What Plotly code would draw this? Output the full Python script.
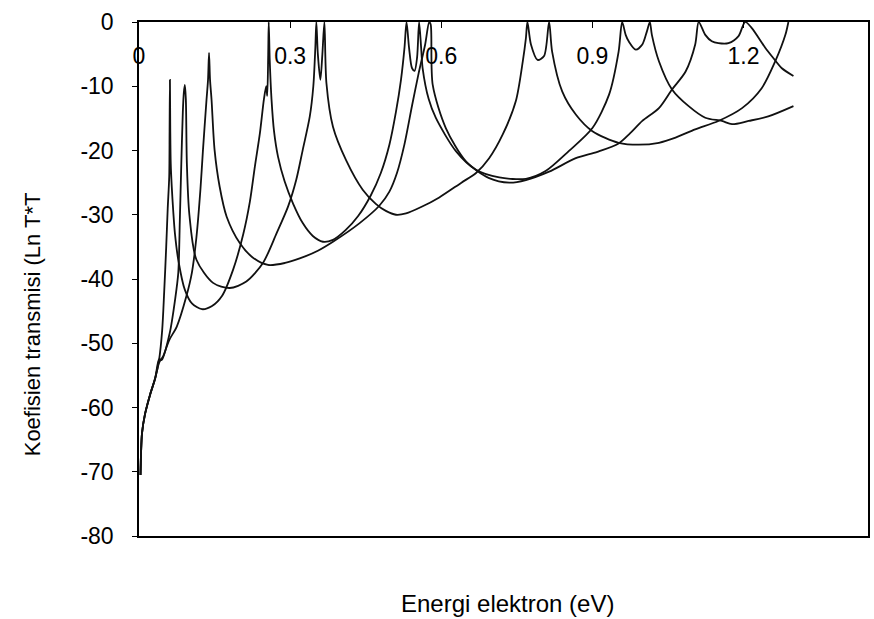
import plotly.graph_objects as go

# ---- data (energy in eV, Ln T*T) ----
curve1_energy = [0.003, 0.006, 0.012, 0.022, 0.032, 0.040, 0.046, 0.050, 0.054, 0.057,
                 0.0600, 0.0607, 0.0614, 0.0621, 0.0630, 0.065, 0.068, 0.0713, 0.0779, 0.0911,
                 0.105, 0.125, 0.145, 0.165, 0.187, 0.207, 0.220, 0.230, 0.240, 0.248,
                 0.2525, 0.2545, 0.2565, 0.2575, 0.2595, 0.263, 0.268, 0.276, 0.289, 0.306,
                 0.325, 0.345, 0.365, 0.385, 0.410, 0.435, 0.460, 0.480, 0.497, 0.510,
                 0.520, 0.527, 0.531, 0.536, 0.542, 0.547, 0.552, 0.556, 0.560, 0.563,
                 0.575, 0.589, 0.629, 0.669, 0.715, 0.768, 0.807, 0.853, 0.900, 0.933,
                 0.952, 0.959, 0.966, 0.972, 0.986, 0.999, 1.008, 1.014, 1.018, 1.032,
                 1.058, 1.091, 1.124, 1.157, 1.177, 1.210, 1.249, 1.299]
curve1_lnT = [-70.5, -64, -61, -58, -55.5, -52.5, -48, -42, -35, -29,
              -24, -17, -9, -17, -22, -25.6, -29.5, -32.9, -37, -41.7,
              -43.8, -44.7, -44.2, -42.6, -38.5, -33, -28, -22.5, -17.3, -12,
              -10, -11.5, -5, 0, -6, -12, -17, -21, -24.8, -28.3,
              -31.3, -33.3, -34.2, -33.9, -32.4, -30.2, -27, -23.5, -19.1, -14,
              -9, -4, 0, -4, -7.2, -7.6, -5.5, 0, -4, -7.2,
              -12, -14.9, -20.1, -23.0, -24.2, -24.4, -23.2, -20.1, -16.5, -11.3,
              -4.6, 0, -2, -3.0, -4.3, -3.5, -1.5, 0, -2.0, -6.1,
              -10.5, -13.1, -14.9, -15.4, -15.9, -15.4, -14.7, -13.1]

curve2_energy = [0.003, 0.006, 0.012, 0.022, 0.032, 0.040, 0.045, 0.061, 0.072, 0.078,
                 0.081, 0.084, 0.087, 0.089, 0.091, 0.093, 0.095, 0.100, 0.114, 0.147,
                 0.180, 0.213, 0.246, 0.273, 0.296, 0.312, 0.325, 0.339, 0.346, 0.350,
                 0.352, 0.355, 0.360, 0.364, 0.368, 0.372, 0.385, 0.411, 0.444, 0.470,
                 0.490, 0.510, 0.530, 0.560, 0.596, 0.640, 0.669, 0.695, 0.722, 0.748,
                 0.762, 0.768, 0.771, 0.778, 0.791, 0.804, 0.814, 0.820, 0.840, 0.867,
                 0.900, 0.952, 0.992, 1.032, 1.065, 1.104, 1.150, 1.197, 1.236, 1.263,
                 1.283, 1.289]
curve2_lnT = [-70.5, -64, -61, -58, -55.5, -52.5, -52.6, -48.4, -43, -39,
              -31, -22, -14, -11, -9.8, -12, -22, -30, -37, -40.6,
              -41.4, -40.4, -37.5, -32.9, -28.7, -24.6, -19.9, -14.7, -10, -4,
              0, -5, -9, -5, 0, -9.5, -16.3, -21.5, -26.1, -28.3,
              -29.4, -30.0, -29.8, -28.8, -27.3, -25.0, -23.5, -21.2, -17.5, -12.3,
              -6, -2.5, 0, -3.5, -5.9, -5.3, 0, -4.6, -10.8, -14.4,
              -17.0, -18.8, -19.1, -18.8, -18.0, -16.7, -15.4, -13.4, -10.3, -6.1,
              -2.0, 0]

curve3_energy = [0.003, 0.006, 0.012, 0.022, 0.032, 0.040, 0.048, 0.060, 0.075, 0.094,
                 0.105, 0.114, 0.122, 0.127, 0.134, 0.137, 0.139, 0.141, 0.144, 0.150,
                 0.160, 0.174, 0.200, 0.225, 0.256, 0.290, 0.319, 0.355, 0.385, 0.438,
                 0.477, 0.497, 0.512, 0.527, 0.542, 0.555, 0.568, 0.576, 0.579, 0.583,
                 0.609, 0.649, 0.695, 0.735, 0.768, 0.814, 0.867, 0.910, 0.952, 0.975,
                 0.999, 1.032, 1.058, 1.085, 1.104, 1.111, 1.124, 1.137, 1.150, 1.170,
                 1.190, 1.203, 1.216, 1.243, 1.259, 1.276, 1.299]
curve3_lnT = [-70.5, -64, -61, -58, -55.5, -53, -52, -49.5, -47.4, -42.7,
              -39, -33.5, -26, -19.9, -12.1, -9, -4.8, -9, -12.1, -19.9,
              -25.6, -30.3, -34.4, -36.6, -37.8, -37.5, -36.8, -35.6, -34.2, -31.3,
              -28.6, -26.4, -23.5, -19, -13, -8, -3.5, 0, -0.4, -9.8,
              -16.5, -21.7, -24.3, -25.0, -24.6, -23.3, -21.2, -20.2, -18.9, -17.3,
              -15.4, -13.4, -10.5, -7.7, -3.5, 0, -2.0, -3.0, -3.3, -3.3,
              -2.2, 0, -0.9, -4.0, -5.6, -7.2, -8.4]

x_tick_values = [0, 0.3, 0.6, 0.9, 1.2]
x_tick_labels = ["0", "0.3", "0.6", "0.9", "1.2"]
y_tick_values = [0, -10, -20, -30, -40, -50, -60, -70, -80]
y_tick_labels = ["0", "-10", "-20", "-30", "-40", "-50", "-60", "-70", "-80"]

FONT = "Liberation Sans, Arial, sans-serif"

fig = go.Figure()
for ex, ey in [(curve1_energy, curve1_lnT), (curve2_energy, curve2_lnT), (curve3_energy, curve3_lnT)]:
    fig.add_trace(go.Scatter(x=ex, y=ey, mode="lines",
                             line=dict(color="#111111", width=1.8, shape="spline", smoothing=0.8),
                             showlegend=False, hoverinfo="skip"))

fig.update_layout(
    width=874, height=619,
    margin=dict(l=139, r=4, t=22, b=83),
    paper_bgcolor="white", plot_bgcolor="white",
    font=dict(family=FONT, size=23, color="black"),
    xaxis=dict(range=[0, 1.447], side="top", showgrid=False, zeroline=False,
               showline=True, mirror=True, linecolor="black", linewidth=1.5,
               tickvals=x_tick_values, ticktext=x_tick_labels,
               ticks="inside", ticklen=6, tickcolor="black",
               ticklabelposition="inside", ticklabelstandoff=22,
               ticklabeloverflow="allow",
               tickfont=dict(family=FONT, size=23, color="black")),
    yaxis=dict(range=[-80, 0], showgrid=False, zeroline=False,
               showline=True, mirror=True, linecolor="black", linewidth=1.5,
               tickvals=y_tick_values, ticktext=y_tick_labels,
               ticks="outside", ticklen=5, tickcolor="black",
               ticklabelstandoff=14,
               tickfont=dict(family=FONT, size=23, color="black")),
    annotations=[
        dict(text="Koefisien transmisi (Ln T*T", xref="paper", yref="paper",
             x=(32 - 139) / (874 - 139 - 4), y=1 - (324 - 22) / (619 - 22 - 83),
             xanchor="center", yanchor="middle", textangle=-90, showarrow=False,
             font=dict(family=FONT, size=22, color="black")),
        dict(text="Energi elektron (eV)", xref="paper", yref="paper",
             x=(509 - 139) / (874 - 139 - 4), y=1 - (603 - 22) / (619 - 22 - 83),
             xanchor="center", yanchor="middle", showarrow=False,
             font=dict(family=FONT, size=24, color="black")),
    ],
)

fig.write_html("out.html")
